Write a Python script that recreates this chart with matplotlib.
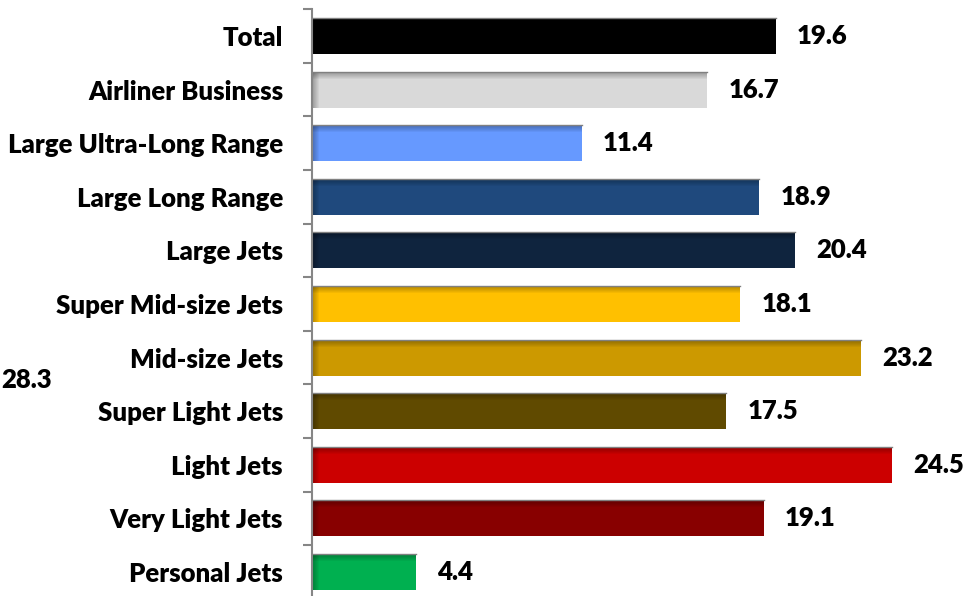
#!/usr/bin/env python3
import numpy as np
import matplotlib
matplotlib.use("Agg")
import matplotlib.pyplot as plt

# chart data (top to bottom)
categories = ["Total", "Airliner Business", "Large Ultra-Long Range",
              "Large Long Range", "Large Jets", "Super Mid-size Jets",
              "Mid-size Jets", "Super Light Jets", "Light Jets",
              "Very Light Jets", "Personal Jets"]
values = [19.6, 16.7, 11.4, 18.9, 20.4, 18.1, 23.2, 17.5, 24.5, 19.1, 4.4]
bar_colors = ["#000000", "#D9D9D9", "#6699FF", "#1F497D", "#0F243E",
              "#FFC000", "#CC9900", "#604A00", "#CC0000", "#880000", "#00B050"]
clipped_label = "28.3"   # label of a bar that falls outside the crop

W, H = 966, 596
PX_PER_UNIT = 23.67
AX_LEFT = 312
BAND = 53.6
BAR_H = 0.67
FS = 18.5

plt.rcParams['font.family'] = ['Lato', 'DejaVu Sans']

def main():
    fig = plt.figure(figsize=(W / 100, H / 100), dpi=100)
    n = len(categories)
    top_px = 9.2
    bot_px = top_px + n * BAND
    xmax = 28.0
    ax = fig.add_axes([AX_LEFT / W, (H - bot_px) / H,
                       xmax * PX_PER_UNIT / W, n * BAND / H])
    ax.set_xlim(0, xmax)
    ax.set_ylim(n - 0.5, -0.5)

    y = np.arange(n)
    ax.barh(y, values, height=BAR_H, color=bar_colors, zorder=2)

    # soft inner shadow along the top and left edges of each bar
    px_y = 1.0 / BAND
    px_x = 1.0 / PX_PER_UNIT
    for yi, v in zip(y, values):
        top = yi - BAR_H / 2
        for k in range(1, 8):
            ax.barh(top, v, height=k * px_y, align='edge', color='black',
                    alpha=0.045, lw=0, zorder=3)
            ax.barh(yi, k * px_x, height=BAR_H, color='black',
                    alpha=0.045, lw=0, zorder=3)
        ax.plot([0, v], [top, top], color='#808080', lw=1.0, zorder=4)
        ax.text(v + 21 * px_x, yi, "%.1f" % v, ha='left', va='center',
                fontsize=FS, fontweight='heavy', color='black', zorder=5)

    # axis: ticks on category boundaries, labels on centres
    for s in ['top', 'right', 'bottom']:
        ax.spines[s].set_visible(False)
    ax.spines['left'].set_color('#868686')
    ax.spines['left'].set_linewidth(1.5)
    ax.spines['left'].set_zorder(6)
    ax.set_xticks([])
    ax.set_yticks(np.arange(n + 1) - 0.5)
    ax.set_yticklabels([])
    ax.tick_params(axis='y', which='major', length=6.5, width=1.5,
                   color='#868686')
    ax.set_yticks(y, minor=True)
    ax.set_yticklabels(categories, minor=True, fontsize=FS,
                       fontweight='heavy')
    ax.tick_params(axis='y', which='minor', length=0, pad=20.9)

    fig.text(1 / W, 1 - 380 / H, clipped_label, ha='left', va='center',
             fontsize=FS, fontweight='heavy')

    fig.savefig("out.png", dpi=100)

if __name__ == "__main__":
    main()
